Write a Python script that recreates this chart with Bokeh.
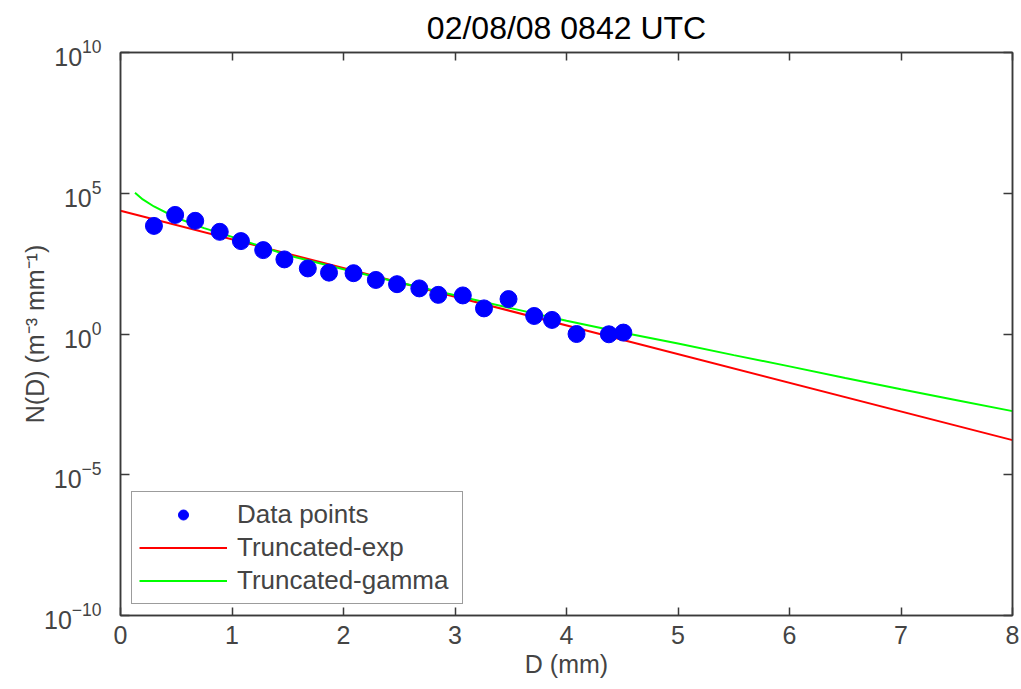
from bokeh.plotting import figure
from bokeh.models import (LogAxis, LinearAxis, FixedTicker, Legend,
                          LegendItem, Range1d, ColumnDataSource)
from bokeh.embed import file_html
from bokeh.resources import INLINE

# ---- data ----
title_text = "02/08/08 0842 UTC"
x_label = "D (mm)"
y_label = "N(D) (m\u207b\u00b3 mm\u207b\u00b9)"

# observed drop size distribution (D in mm, log10 N)
obs_D = [0.30, 0.49, 0.67, 0.89, 1.08, 1.28, 1.47, 1.68, 1.87, 2.09, 2.29,
         2.48, 2.68, 2.85, 3.07, 3.26, 3.48, 3.71, 3.87, 4.09, 4.38, 4.51]
obs_logN = [3.84, 4.23, 4.02, 3.63, 3.30, 2.98, 2.65, 2.33, 2.18, 2.16, 1.92,
            1.77, 1.62, 1.39, 1.37, 0.91, 1.24, 0.64, 0.50, 0.00, -0.01, 0.05]

# truncated exponential fit (straight in log space)
exp_D = [0.0, 8.0]
exp_logN = [4.38, -3.77]

# truncated gamma fit
gam_D = [0.13, 0.2, 0.3, 0.5, 0.75, 1.0, 1.5, 2.0, 2.5, 3.0, 3.5, 4.0, 4.5,
         5.0, 5.5, 6.0, 6.5, 7.0, 7.5, 8.0]
gam_logN = [5.02, 4.78, 4.53, 4.13, 3.76, 3.45, 2.80, 2.30, 1.83, 1.38, 0.92,
            0.47, 0.05, -0.34, -0.75, -1.15, -1.56, -1.96, -2.35, -2.74]

x_ticks = [0, 1, 2, 3, 4, 5, 6, 7, 8]
y_tick_exponents = [-10, -5, 0, 5, 10]

series_names = ["Data points", "Truncated-exp", "Truncated-gamma"]
colors = ["#0000ff", "#ff0000", "#00ff00"]

FONT = "Liberation Sans"
AX = "#3a3a3a"

obs_src = ColumnDataSource(dict(x=obs_D, y=[10.0 ** v for v in obs_logN]))
exp_src = ColumnDataSource(dict(x=exp_D, y=[10.0 ** v for v in exp_logN]))
gam_src = ColumnDataSource(dict(x=gam_D, y=[10.0 ** v for v in gam_logN]))

y_ticks = [10.0 ** e for e in y_tick_exponents]
blank_x = {t: "" for t in x_ticks}
blank_y = {t: "" for t in y_ticks}

p = figure(width=1020, height=680, x_range=Range1d(0, 8),
           y_range=Range1d(1e-10, 1e10), y_axis_type="log",
           output_backend="svg", toolbar_location=None, title=title_text,
           min_border_left=120, min_border_right=8, min_border_top=10,
           min_border_bottom=10)

p.title.align = "center"
p.title.text_font = FONT
p.title.text_font_size = "32px"
p.title.text_font_style = "normal"
p.title.text_color = "black"
p.title.standoff = 14

p.xgrid.visible = False
p.ygrid.visible = False
p.outline_line_color = AX
p.outline_line_width = 1.5
p.background_fill_color = "white"
p.border_fill_color = "white"

# bottom axis
xa = p.xaxis[0]
xa.ticker = FixedTicker(ticks=x_ticks)
xa.axis_label = x_label
xa.axis_label_text_font = FONT
xa.axis_label_text_font_size = "25px"
xa.axis_label_text_font_style = "normal"
xa.axis_label_standoff = 3
xa.major_label_text_font = FONT
xa.major_label_text_font_size = "25px"
xa.major_label_standoff = 10
xa.major_tick_in = 8
xa.major_tick_out = 0
xa.minor_tick_in = 0
xa.minor_tick_out = 0
xa.axis_line_color = AX
xa.axis_line_width = 1.5
xa.major_tick_line_color = AX
xa.major_tick_line_width = 1.5

# left axis: 10 with superscript exponents from the log formatter
ya = p.yaxis[0]
ya.ticker = FixedTicker(ticks=y_ticks, minor_ticks=[])
ya.axis_label = y_label
ya.axis_label_text_font = FONT
ya.axis_label_text_font_size = "25px"
ya.axis_label_text_font_style = "normal"
ya.major_label_text_font = FONT
ya.major_label_text_font_size = "25px"
ya.major_label_standoff = 19
ya.axis_label_standoff = -8
ya.major_tick_in = 9
ya.major_tick_out = 0
ya.minor_tick_in = 0
ya.minor_tick_out = 0
ya.axis_line_color = AX
ya.axis_line_width = 1.5
ya.major_tick_line_color = AX
ya.major_tick_line_width = 1.5

# mirrored axes (ticks only)
top = LinearAxis(ticker=FixedTicker(ticks=x_ticks), major_label_overrides=blank_x,
                 major_label_text_font_size="6px",
                 major_label_standoff=0, major_tick_in=8, major_tick_out=0,
                 minor_tick_in=0, minor_tick_out=0, axis_line_color=AX,
                 axis_line_width=1.5, major_tick_line_color=AX, major_tick_line_width=1.5)
right = LogAxis(ticker=FixedTicker(ticks=y_ticks, minor_ticks=[]),
                major_label_overrides=blank_y,
                major_label_text_font_size="6px", major_label_standoff=0,
                major_tick_in=9, major_tick_out=0, minor_tick_in=0, minor_tick_out=0,
                axis_line_color=AX, axis_line_width=1.5, major_tick_line_color=AX,
                major_tick_line_width=1.5)
p.add_layout(top, "above")
p.add_layout(right, "right")

r_exp = p.line("x", "y", source=exp_src, line_color=colors[1], line_width=2)
r_gam = p.line("x", "y", source=gam_src, line_color=colors[2], line_width=2)
r_obs = p.scatter("x", "y", source=obs_src, size=17, marker="circle",
                  fill_color=colors[0], line_color=colors[0])

legend = Legend(items=[LegendItem(label=series_names[0], renderers=[r_obs]),
                       LegendItem(label=series_names[1], renderers=[r_exp]),
                       LegendItem(label=series_names[2], renderers=[r_gam])],
                location=(11, 11), label_text_font=FONT,
                label_text_font_size="26px", glyph_width=88, glyph_height=25,
                label_height=25, label_width=218, spacing=2, padding=7,
                label_standoff=10,
                border_line_color=AX, border_line_width=1.5,
                background_fill_color="white", background_fill_alpha=1.0)
p.add_layout(legend, "center")

open("out.html", "w").write(file_html(p, INLINE))
